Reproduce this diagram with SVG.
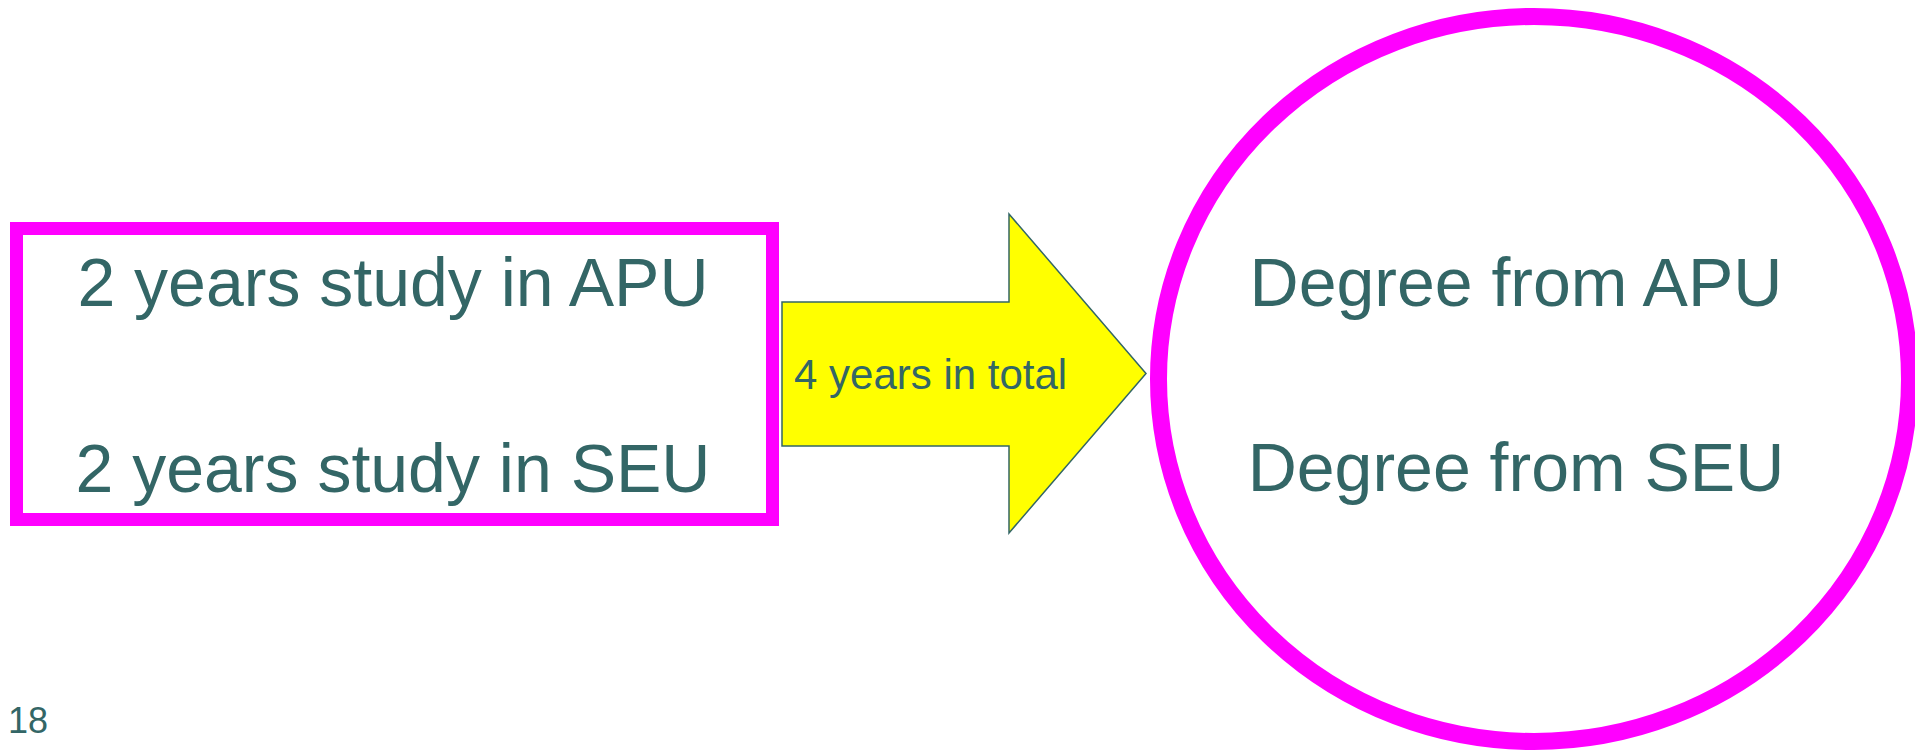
<svg xmlns="http://www.w3.org/2000/svg" width="1915" height="750" viewBox="0 0 1915 750">
<style>
  .t { font-family: "Liberation Sans", Arial, sans-serif; fill: #336666; }
  .big { font-size: 68px; text-anchor: middle; }
</style>
<rect x="0" y="0" width="1915" height="750" fill="#ffffff"/>
<g id="node-studies">
  <rect x="16.5" y="228.5" width="756" height="291" fill="#ffffff" stroke="#ff00ff" stroke-width="13"/>
  <text class="t big" x="393" y="306">2 years study in APU</text>
  <text class="t big" x="393" y="492">2 years study in SEU</text>
</g>
<g id="connectors">
  <polygon id="arrow-total" points="782,302 1009,302 1009,214 1146,373.5 1009,533 1009,446 782,446" fill="#ffff00" stroke="#336666" stroke-width="1.5"/>
  <text class="t" x="794" y="389" font-size="42">4 years in total</text>
</g>
<g id="node-degrees">
  <ellipse cx="1534" cy="379" rx="375.5" ry="362.5" fill="#ffffff" stroke="#ff00ff" stroke-width="17"/>
  <text class="t big" x="1516" y="306">Degree from APU</text>
  <text class="t big" x="1516" y="491">Degree from SEU</text>
</g>
<g id="page-number">
  <text class="t" x="8" y="733" font-size="36">18</text>
</g>
</svg>
